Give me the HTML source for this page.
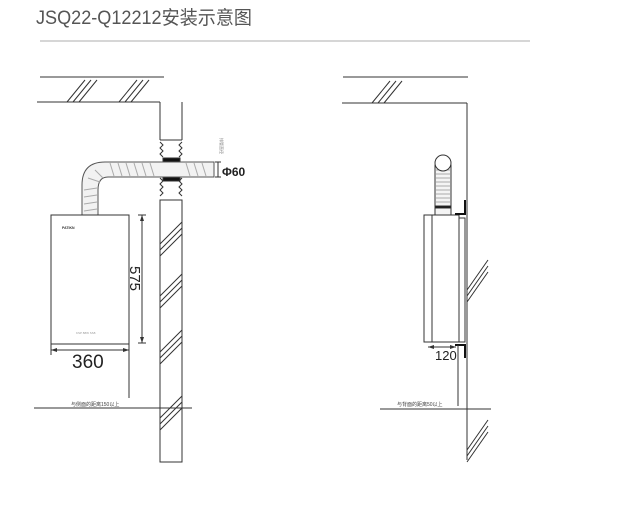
<!DOCTYPE html>
<html><head><style>
html,body{margin:0;padding:0;background:#fff;width:640px;height:530px;overflow:hidden}
svg{display:block}
</style></head><body>
<svg width="640" height="530" viewBox="0 0 640 530" xmlns="http://www.w3.org/2000/svg" font-family="Liberation Sans, Noto Sans CJK SC, sans-serif">
<text x="36" y="24" font-size="19" fill="#555" textLength="216" lengthAdjust="spacingAndGlyphs" font-family="Liberation Sans, Noto Sans CJK SC, sans-serif">JSQ22-Q12212安装示意图</text>
<line x1="40" y1="41" x2="530" y2="41" stroke="#c8c8c8" stroke-width="1.5"/>
<g stroke="#333" stroke-width="1" fill="none">
<line x1="40" y1="77" x2="164" y2="77"/>
<line x1="37" y1="102" x2="160" y2="102"/>
<path d="M67 102 L85 80 M73 102 L91 80 M79 102 L97 80 M119 102 L137 80 M125 102 L143 80 M131 102 L149 80"/>
<line x1="160" y1="102" x2="160" y2="140"/>
<line x1="182" y1="102" x2="182" y2="140"/>
<line x1="160" y1="140" x2="182" y2="140"/>
<path d="M160 142 l3 3 l-3 3 l3 3 l-3 3 l3 3 M182 142 l-3 3 l3 3 l-3 3 l3 3 l-3 3"/>
<path d="M160 178 l3 3 l-3 3 l3 3 l-3 3 l3 3 l-3 3 M182 178 l-3 3 l3 3 l-3 3 l3 3 l-3 3 l3 3"/>
<rect x="163" y="158" width="17" height="4" fill="#111"/>
<rect x="163" y="177" width="17" height="4" fill="#111"/>
<path d="M160 200 L160 462 L182 462 L182 200 Z"/>
<path d="M160 244 L182 222 M160 250 L182 228 M160 256 L182 234 M160 296 L182 274 M160 302 L182 280 M160 308 L182 286 M160 352 L182 330 M160 358 L182 336 M160 364 L182 342 M160 418 L182 396 M160 424 L182 402 M160 430 L182 408"/>
<path d="M82 215 L82 185 Q82 162 105 162 L214 162 L214 177 L108 177 Q98 177 98 190 L98 215" fill="#f2f2f2" stroke="#555"/>
<path d="M110 163 l4 13 M118 163 l4 13 M126 163 l4 13 M134 163 l4 13 M142 163 l4 13 M150 163 l4 13 M186 163 l4 13 M194 163 l4 13 M202 163 l4 13 M84 190 l13 -2 M84 197 l13 -2 M84 204 l13 -2 M84 211 l13 -2 M88 178 l12 4 M95 170 l8 8" stroke="#aaa"/>
<line x1="218" y1="162" x2="218" y2="177"/>
<line x1="215" y1="162" x2="221" y2="162"/><line x1="215" y1="177" x2="221" y2="177"/>
<rect x="51" y="215" width="78" height="129" fill="#fff"/>
<line x1="142" y1="215" x2="142" y2="343"/>
<line x1="138" y1="215" x2="146" y2="215"/><line x1="138" y1="343" x2="146" y2="343"/>
<line x1="51" y1="344" x2="51" y2="355"/>
<line x1="129" y1="344" x2="129" y2="398"/>
<line x1="51" y1="350" x2="129" y2="350"/>
<line x1="34" y1="408" x2="192" y2="408"/>
<line x1="343" y1="77" x2="468" y2="77"/>
<line x1="342" y1="103" x2="467" y2="103"/>
<path d="M372 103 L390 81 M378 103 L396 81 M384 103 L402 81"/>
<line x1="467" y1="103" x2="467" y2="460"/>
<path d="M467 290 L488 260 M467 296 L488 266 M467 302 L488 272 M467 450 L488 420 M467 456 L488 426 M467 462 L488 432"/>
<rect x="435" y="165" width="16" height="50" fill="#f4f4f4"/>
<path d="M436 170 h14 M436 174 h14 M436 178 h14 M436 182 h14 M436 186 h14 M436 190 h14 M436 194 h14 M436 198 h14 M436 202 h14" stroke="#aaa"/>
<circle cx="443" cy="163" r="8" fill="#fff"/>
<rect x="435" y="206" width="16" height="2" fill="#111"/>
<rect x="424" y="215" width="35" height="127" fill="#fff"/>
<line x1="432" y1="215" x2="432" y2="342"/>
<rect x="459" y="218" width="6" height="124"/>
<path d="M455 214 L465 214 L465 200" stroke="#111" stroke-width="2"/>
<path d="M455 345 L465 345 L465 358" stroke="#111" stroke-width="2"/>
<line x1="458" y1="345" x2="458" y2="406"/>
<line x1="428" y1="347" x2="456" y2="347"/>
<line x1="380" y1="409" x2="491" y2="409"/>
</g>
<g fill="#333">
<path d="M142 215 l-2 6 h4 Z M142 343 l-2 -6 h4 Z M51 350 l6 -2 v4 Z M129 350 l-6 -2 v4 Z M428 347 l6 -2 v4 Z M456 347 l-6 -2 v4 Z"/>
</g>
<text x="62" y="229" font-size="3.5" fill="#333" font-weight="bold">PATIKN</text>
<text x="76" y="334" font-size="3" fill="#999">KSP 88W SS8</text>
<text transform="translate(130,266) rotate(90)" font-size="15" fill="#222">575</text>
<text x="72" y="368" font-size="19" fill="#222">360</text>
<text x="435" y="360" font-size="13" fill="#222">120</text>
<text x="222" y="176" font-size="12" font-weight="bold" fill="#222">Φ60</text>
<text transform="translate(220,138) rotate(90)" font-size="4" fill="#777">排管直径</text>
<text x="71" y="406" font-size="5" fill="#444">与侧面的距离150以上</text>
<text x="397" y="406" font-size="5" fill="#444">与背面的距离50以上</text>
</svg>
</body></html>
